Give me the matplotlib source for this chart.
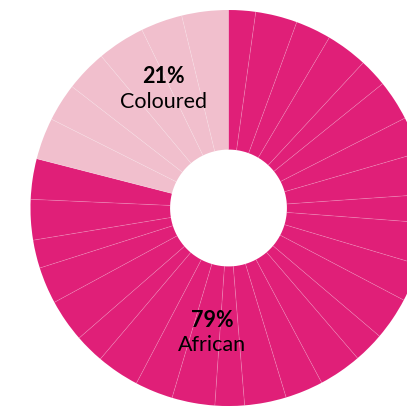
import numpy as np
import matplotlib.pyplot as plt

plt.rcParams['font.family'] = ['Lato', 'DejaVu Sans']

groups = ['African', 'Coloured']
shares = [79, 21]
colors = ['#E01F78', '#F1BFCD']

# sub-segments of each group, clockwise from the top
african = [2.2, 3.4, 2.9, 3.4, 2.3, 3.3, 3.0, 3.4, 2.3, 3.4, 3.1, 3.5, 2.5,
           3.5, 3.1, 3.4, 2.4, 3.5, 3.1, 3.5, 2.4, 3.5, 3.0, 2.3, 3.3, 3.3]
coloured = [3.4, 3.1, 3.4, 3.9, 3.4, 3.8]

values = african + coloured
seg_colors = [colors[0]] * len(african) + [colors[1]] * len(coloured)

fig = plt.figure(figsize=(4.07, 4.07), dpi=100)
ax = fig.add_axes([0, 0, 1, 1])

ax.pie(values, colors=seg_colors, startangle=90, counterclock=False,
       radius=1.0, wedgeprops=dict(width=0.705, linewidth=0))

# thin separators between the segments
inner = 1.0 - 0.705
bounds = np.cumsum(values)[:-1]
for b in bounds:
    ang = np.deg2rad(90 - b / sum(values) * 360)
    ax.plot([inner * np.cos(ang), np.cos(ang)], [inner * np.sin(ang), np.sin(ang)],
            color='white', alpha=0.2, lw=0.6, solid_capstyle='butt')

ax.text(-0.33, 0.665, f'{shares[1]}%', ha='center', va='center',
        fontsize=15.5, fontweight='bold')
ax.text(-0.33, 0.535, groups[1], ha='center', va='center', fontsize=15.5)
ax.text(-0.083, -0.57, f'{shares[0]}%', ha='center', va='center',
        fontsize=15.5, fontweight='bold')
ax.text(-0.083, -0.69, groups[0], ha='center', va='center', fontsize=15.5)

ax.set_xlim(-1.154, 0.9015)
ax.set_ylim(-1.005, 1.0505)
ax.set_aspect('equal')
ax.axis('off')

fig.savefig('out.png', dpi=100)
